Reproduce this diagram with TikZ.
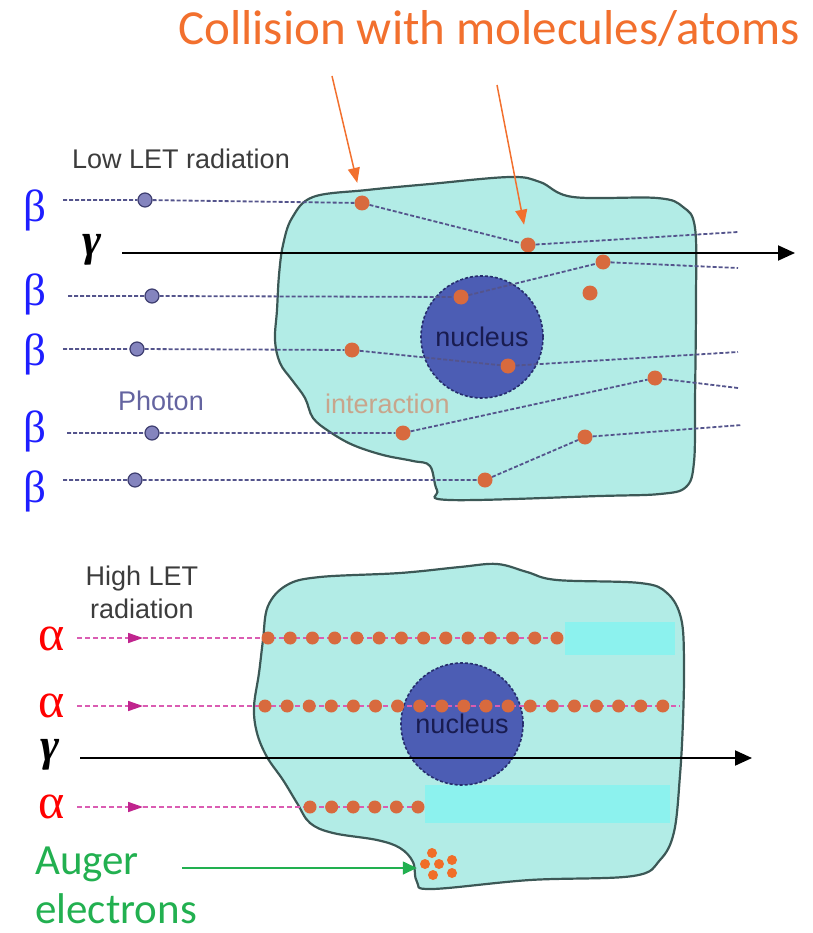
\documentclass[tikz,border=0pt]{standalone}
\usepackage{fontspec}
\usetikzlibrary{arrows.meta,positioning}

\newfontfamily\arialfont{Liberation Sans}
\newfontfamily\calibrifont{Carlito}
\newfontfamily\timesfont{Liberation Serif}

\definecolor{cellfill}{RGB}{178,236,230}
\definecolor{cellline}{RGB}{60,88,86}
\definecolor{glow}{RGB}{140,242,238}
\definecolor{nucfill}{RGB}{76,93,180}
\definecolor{nucline}{RGB}{38,45,110}
\definecolor{nuctext}{RGB}{25,28,80}
\definecolor{hitorange}{RGB}{216,106,62}
\definecolor{augerorange}{RGB}{240,110,40}
\definecolor{photonfill}{RGB}{132,132,190}
\definecolor{photonline}{RGB}{62,62,112}
\definecolor{trackblue}{RGB}{84,84,140}
\definecolor{alphapink}{RGB}{218,92,178}
\definecolor{alphahead}{RGB}{192,36,142}
\definecolor{titleorange}{RGB}{242,112,46}
\definecolor{augergreen}{RGB}{34,176,80}
\definecolor{betablue}{RGB}{30,30,255}
\definecolor{labelgray}{RGB}{60,60,60}
\definecolor{photontext}{RGB}{100,100,160}
\definecolor{hittan}{RGB}{200,165,140}

\tikzstyle{cell} = [fill=cellfill, draw=cellline, line width=2.2pt]
\tikzstyle{nucleus} = [circle, draw=nucline, fill=nucfill, line width=1.6pt,
    dash pattern=on 3pt off 2pt, minimum size=122pt, text=nuctext,
    font=\arialfont\fontsize{27}{32}\selectfont]
\tikzstyle{hit} = [circle, fill=hitorange, inner sep=0pt, minimum size=15pt]
\tikzstyle{adot} = [circle, fill=hitorange, inner sep=0pt, minimum size=13pt]
\tikzstyle{speck} = [circle, fill=augerorange, inner sep=0pt, minimum size=10pt]
\tikzstyle{photon} = [circle, draw=photonline, fill=photonfill, line width=1.2pt,
    inner sep=0pt, minimum size=14pt]
\tikzstyle{track} = [draw=trackblue, line width=1.8pt, dash pattern=on 4pt off 2pt]
\tikzstyle{atrack} = [draw=alphapink, line width=1.6pt, dash pattern=on 5pt off 3pt]
\tikzstyle{ray} = [draw, line width=2pt, -{Triangle[length=17pt,width=15pt]}]
\tikzstyle{pointer} = [draw=titleorange, line width=1.5pt, shorten >=13pt,
    -{Triangle[length=15pt,width=12pt]}]
\tikzstyle{lbl} = [inner sep=0pt, text=labelgray, font=\arialfont\fontsize{27}{32}\selectfont]
\tikzstyle{greek} = [inner sep=0pt, font=\timesfont\fontsize{45}{45}\selectfont]
\tikzstyle{auger} = [inner sep=0pt, text=augergreen, font=\calibrifont\fontsize{43}{50}\selectfont]

\begin{document}
\begin{tikzpicture}[x=1pt, y=-1pt]
	\useasboundingbox (0,0) rectangle (812,933);

	% low LET cell
	\path [cell] plot[smooth cycle, tension=0.6] coordinates {
		(313,197) (367,190) (430,184) (510,177) (540,182) (573,197) (657,198)
		(683,207) (695,228) (696,300) (695,400) (694,462) (686,487) (660,494)
		(600,496) (450,500) (437,490) (430,466) (413,461) (383,455) (353,445)
		(330,432) (313,418) (305,398) (292,380) (280,363) (275,340) (277,310)
		(279,275) (283,245) (292,218)};
	\node [nucleus] (nuc1) at (482,337) {nucleus};

	\node [hit] (c1) at (362,203) {};
	\node [hit] (c2) at (528,245) {};
	\node [hit] (c3) at (603,262) {};
	\node [hit] (c4) at (590,293) {};
	\node [hit] (c5) at (461,297) {};
	\node [hit] (c6) at (352,350) {};
	\node [hit] (c7) at (508,366) {};
	\node [hit] (c8) at (655,378) {};
	\node [hit] (c9) at (403,433) {};
	\node [hit] (c10) at (585,437) {};
	\node [hit] (c11) at (485,480) {};

	\node [photon] (p1) at (145,200) {};
	\node [photon] (p2) at (152,296) {};
	\node [photon] (p3) at (137,349) {};
	\node [photon] (p4) at (152,433) {};
	\node [photon] (p5) at (135,480) {};

	\node [greek, text=betablue] (b1) at (35,210) {β};
	\node [greek, text=betablue] (b2) at (35,294) {β};
	\node [greek, text=betablue] (b3) at (35,354) {β};
	\node [greek, text=betablue] (b4) at (35,431) {β};
	\node [greek, text=betablue] (b5) at (35,491) {β};

	\coordinate (s1) at (63,200);  \coordinate (e1) at (738,232);
	\coordinate (s2) at (68,296);  \coordinate (e2) at (738,268);
	\coordinate (s3) at (63,349);  \coordinate (e3) at (738,352);
	\coordinate (s4) at (67,433);  \coordinate (e4) at (738,388);
	\coordinate (s5) at (63,480);  \coordinate (e5) at (742,425);

	\path [track] (s1) -- (p1) -- (c1) -- (c2) -- (e1);
	\path [track] (s2) -- (p2) -- (c5) -- (c3) -- (e2);
	\path [track] (s3) -- (p3) -- (c6) -- (c7) -- (e3);
	\path [track] (s4) -- (p4) -- (c9) -- (c8) -- (e4);
	\path [track] (s5) -- (p5) -- (c11) -- (c10) -- (e5);

	\node [greek, font=\timesfont\bfseries\itshape\fontsize{46}{46}\selectfont] (g1) at (92,250) {γ};
	\coordinate (g1s) at (122,253);
	\coordinate (g1e) at (795,253);
	\path [ray] (g1s) -- (g1e);

	\node [lbl, anchor=base west] (lowlet) at (72,169) {Low LET radiation};
	\node [lbl, anchor=base west, text=photontext] (photonlbl) at (118,410) {Photon};
	\node [lbl, anchor=base west, text=hittan] (interact) at (325,413) {interaction};

	% collisions
	\node [anchor=base, inner sep=0pt, text=titleorange,
		font=\calibrifont\fontsize{49}{58}\selectfont] (title) at (489,45) {Collision with molecules/atoms};
	\coordinate (o1) at (332,76);
	\coordinate (o2) at (497,85);
	\path [pointer] (o1) -- (c1);
	\path [pointer] (o2) -- (c2);

	% high LET cell
	\path [cell] plot[smooth cycle, tension=0.6] coordinates {
		(263,640) (268,606) (287,585) (320,577) (400,573) (460,567) (497,564)
		(527,572) (557,580) (640,583) (667,593) (681,618) (684,660) (683,720)
		(680,775) (674,832) (660,860) (633,876) (530,880) (432,889) (417,882)
		(413,862) (400,848) (377,840) (333,833) (310,823) (297,803) (283,780)
		(267,757) (257,733) (254,707) (259,673)};
	\fill [glow] (565,622) rectangle (675,655);
	\fill [glow] (425,785) rectangle (670,823);
	\node [nucleus] (nuc2) at (462,724) {nucleus};

	\node [greek, text=red, font=\timesfont\fontsize{50}{50}\selectfont] (a1) at (52,639) {α};
	\node [greek, text=red, font=\timesfont\fontsize{50}{50}\selectfont] (a2) at (52,706) {α};
	\node [greek, text=red, font=\timesfont\fontsize{50}{50}\selectfont] (a3) at (52,807) {α};

	\coordinate (a1s) at (77,638);  \coordinate (a1m) at (143,638);  \coordinate (a1e) at (557,638);
	\coordinate (a2s) at (77,706);  \coordinate (a2m) at (143,706);  \coordinate (a2e) at (680,706);
	\coordinate (a3s) at (77,807);  \coordinate (a3m) at (143,807);  \coordinate (a3e) at (418,807);

	\path [atrack, -{Triangle[length=15pt,width=10pt,color=alphahead]}] (a1s) -- (a1m);
	\path [atrack, -{Triangle[length=15pt,width=10pt,color=alphahead]}] (a2s) -- (a2m);
	\path [atrack, -{Triangle[length=15pt,width=10pt,color=alphahead]}] (a3s) -- (a3m);
	\path [atrack] (a1m) -- (a1e);
	\path [atrack] (a2m) -- (a2e);
	\path [atrack] (a3m) -- (a3e);

	\foreach \i in {0,...,13}
		\node [adot] (h1-\i) at ({268+22.23*\i},638) {};
	\foreach \i in {0,...,18}
		\node [adot] (h2-\i) at ({265+22.1*\i},706) {};
	\foreach \i in {0,...,5}
		\node [adot] (h3-\i) at ({310+21.6*\i},807) {};

	\node [greek, font=\timesfont\bfseries\itshape\fontsize{46}{46}\selectfont] (g2) at (50,755) {γ};
	\coordinate (g2s) at (80,758);
	\coordinate (g2e) at (752,758);
	\path [ray] (g2s) -- (g2e);

	\node [lbl, anchor=base] (highlet) at (142,585) {High LET};
	\node [lbl, below=33pt of highlet.base, anchor=base] (radiation) {radiation};

	% auger electrons
	\node [speck] (q1) at (432,853) {};
	\node [speck] (q2) at (452,860) {};
	\node [speck] (q3) at (425,864) {};
	\node [speck] (q4) at (439,864) {};
	\node [speck] (q5) at (433,875) {};
	\node [speck] (q6) at (452,873) {};

	\node [auger, anchor=base west] (auger) at (35,874) {Auger};
	\node [auger, below=49pt of auger.base west, anchor=base west] (electrons) {electrons};
	\coordinate (ag) at (182,868);
	\path [draw=augergreen, line width=1.5pt, shorten >=3pt,
		-{Triangle[length=14pt,width=13pt]}] (ag) -- (ag -| q3.west);
\end{tikzpicture}
\end{document}
